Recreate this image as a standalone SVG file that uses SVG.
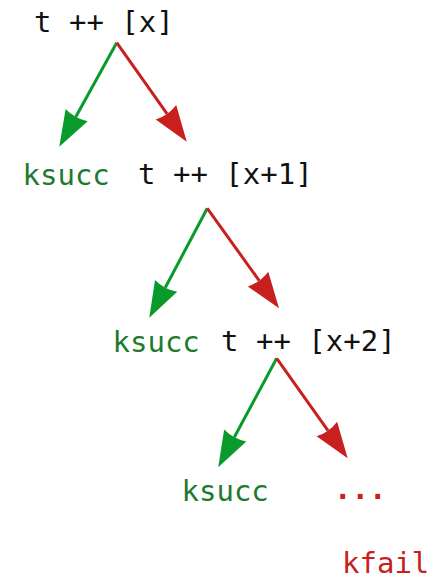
<svg xmlns="http://www.w3.org/2000/svg" width="447" height="577" viewBox="0 0 447 577">
<style>
text{font-family:"DejaVu Sans Mono","Liberation Mono",monospace;font-size:29px}
.t{fill:#111111}
.s{fill:#1e7b2d}
.f{fill:#c8201e}
.g{stroke:#089b2b;stroke-width:3;fill:none}
.r{stroke:#c8201e;stroke-width:3;fill:none}
</style>
<defs>
<marker id="ag" markerUnits="userSpaceOnUse" markerWidth="40" markerHeight="30" viewBox="-2 -15 40 30" refX="2" refY="0" orient="auto" overflow="visible">
<path d="M36,0 L0,-12.6 Q4,0 0,12.6 Z" fill="#089b2b"/>
</marker>
<marker id="ar" markerUnits="userSpaceOnUse" markerWidth="40" markerHeight="30" viewBox="-2 -15 40 30" refX="2" refY="0" orient="auto" overflow="visible">
<path d="M36,0 L0,-12.6 Q4,0 0,12.6 Z" fill="#c8201e"/>
</marker>
</defs>
<g id="connectors">
<line class="g" x1="116.7" y1="42.7" x2="75.7" y2="116.9" marker-end="url(#ag)"/>
<line class="r" x1="116.7" y1="42.7" x2="167.1" y2="113.9" marker-end="url(#ar)"/>
<line class="g" x1="207.3" y1="208.3" x2="165.2" y2="287.7" marker-end="url(#ag)"/>
<line class="r" x1="207.3" y1="208.3" x2="259.2" y2="280.7" marker-end="url(#ar)"/>
<line class="g" x1="276.7" y1="358.3" x2="234.3" y2="437.3" marker-end="url(#ag)"/>
<line class="r" x1="276.7" y1="358.3" x2="328" y2="430.6" marker-end="url(#ar)"/>
</g>
<g id="n0"><text class="t" x="34" y="31.5">t ++ [x]</text></g>
<g id="s1"><text class="s" x="22.5" y="184.5">ksucc</text></g>
<g id="n1"><text class="t" x="138" y="183.5">t ++ [x+1]</text></g>
<g id="s2"><text class="s" x="112.5" y="351.5">ksucc</text></g>
<g id="n2"><text class="t" x="221" y="350.5">t ++ [x+2]</text></g>
<g id="s3"><text class="s" x="181.5" y="500.5">ksucc</text></g>
<g id="dots"><text class="f" x="334" y="498.5" font-weight="bold">...</text></g>
<g id="kfail"><text class="f" x="342" y="572.5">kfail</text></g>
</svg>
